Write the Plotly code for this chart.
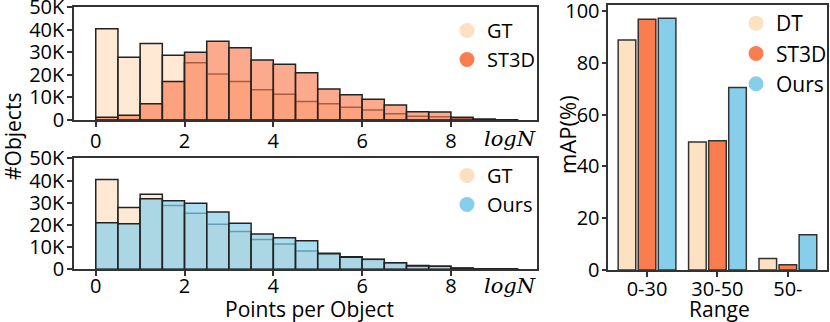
import plotly.graph_objects as go

W, H = 830, 322

# ---------------- data ----------------
bin_centers = [0.25, 0.75, 1.25, 1.75, 2.25, 2.75, 3.25, 3.75, 4.25, 4.75,
               5.25, 5.75, 6.25, 6.75, 7.25, 7.75, 8.25, 8.75, 9.25]
bin_width = 0.5
gt_counts = [40400, 27800, 33800, 28700, 25300, 20300, 17000, 13400, 11400, 8200,
             7200, 5600, 4400, 2800, 1700, 1400, 600, 250, 100]
st3d_counts = [1200, 2100, 7200, 17000, 30000, 34800, 32000, 26500, 24700, 20900,
               13700, 11200, 9200, 6600, 3700, 3500, 1200, 400, 100]
ours_counts = [21000, 20500, 31800, 30900, 29700, 25800, 20700, 15900, 14200, 12900,
               7000, 5400, 4500, 3000, 1500, 1400, 500, 300, 200]

hist_yticks = [0, 10000, 20000, 30000, 40000, 50000]
hist_yticklabels = ["0", "10K", "20K", "30K", "40K", "50K"]
hist_xticks = [0, 2, 4, 6, 8]

ranges = ["0-30", "30-50", "50-"]
map_dt = [88.8, 49.4, 4.4]
map_st3d = [96.8, 49.9, 2.0]
map_ours = [97.2, 70.5, 13.6]
map_yticks = [0, 20, 40, 60, 80, 100]

# ---------------- style ----------------
FONT = "Open Sans"
FS = 20
LINE = "#333333"
C_GT_FILL = "rgba(255,218,185,0.6)"
C_ST3D_FILL = "rgba(250,125,80,0.65)"
C_OURS_FILL = "rgba(135,206,235,0.7)"
C_GT = "#FDDFC2"
C_DT = "#FDE1C3"
C_ST3D = "#FA7D50"
C_OURS = "#87CEEB"


def px_x(a, b):
    return [a / W, b / W]


def px_y(top, bottom):
    return [1 - bottom / H, 1 - top / H]


fig = go.Figure()

bar_line = dict(color="#222222", width=1.5)

# top histogram: GT vs ST3D
fig.add_trace(go.Bar(x=bin_centers, y=gt_counts, width=bin_width, marker=dict(color=C_GT_FILL, line=bar_line),
                     xaxis="x", yaxis="y", showlegend=False))
fig.add_trace(go.Bar(x=bin_centers, y=st3d_counts, width=bin_width, marker=dict(color=C_ST3D_FILL, line=bar_line),
                     xaxis="x", yaxis="y", showlegend=False))
# bottom histogram: GT vs Ours
fig.add_trace(go.Bar(x=bin_centers, y=gt_counts, width=bin_width, marker=dict(color=C_GT_FILL, line=bar_line),
                     xaxis="x2", yaxis="y2", showlegend=False))
fig.add_trace(go.Bar(x=bin_centers, y=ours_counts, width=bin_width, marker=dict(color=C_OURS_FILL, line=bar_line),
                     xaxis="x2", yaxis="y2", showlegend=False))

# right grouped bars
bw = 0.25
for vals, col, off in [(map_dt, C_DT, -0.41), (map_st3d, C_ST3D, -0.125), (map_ours, C_OURS, 0.16)]:
    fig.add_trace(go.Bar(x=ranges, y=vals, width=bw, offset=off,
                         marker=dict(color=col, line=dict(color="#333333", width=1.5)),
                         xaxis="x3", yaxis="y3", showlegend=False))

# legend entries (circles)
def leg(name, color, legend, xa, ya):
    fig.add_trace(go.Scatter(x=[None], y=[None], mode="markers", name=name,
                             marker=dict(size=15, color=color), legend=legend,
                             xaxis=xa, yaxis=ya))

leg("GT", C_GT, "legend", "x", "y")
leg("ST3D", C_ST3D, "legend", "x", "y")
leg("GT", C_GT, "legend2", "x2", "y2")
leg("Ours", C_OURS, "legend2", "x2", "y2")
leg("DT", C_DT, "legend3", "x3", "y3")
leg("ST3D", C_ST3D, "legend3", "x3", "y3")
leg("Ours", C_OURS, "legend3", "x3", "y3")

axis_common = dict(showline=True, linecolor=LINE, linewidth=1.5, mirror=True,
                   ticks="outside", ticklen=5, tickwidth=1.5, tickcolor=LINE,
                   showgrid=False, zeroline=False, automargin=False,
                   ticklabeloverflow="allow",
                   tickfont=dict(family=FONT, size=FS, color="black"))


def leg_common(size):
    return dict(font=dict(family=FONT, size=size, color="black"), bgcolor="rgba(0,0,0,0)",
                borderwidth=0, xanchor="left", yanchor="top", itemsizing="trace",
                tracegroupgap=0)


def ann(text, x, y, size, angle=0, family=FONT):
    return dict(text=text, x=x / W, y=1 - y / H, xref="paper", yref="paper", textangle=angle,
                xanchor="center", yanchor="middle", showarrow=False,
                font=dict(family=family, size=size, color="black"))


fig.update_layout(
    width=W, height=H,
    margin=dict(l=0, r=0, t=0, b=0, autoexpand=False),
    paper_bgcolor="white", plot_bgcolor="white",
    barmode="overlay",
    xaxis=dict(domain=px_x(74, 537), range=[-0.49, 9.94], tickvals=hist_xticks, anchor="y",
               ticklabelstandoff=-3, **axis_common),
    yaxis=dict(domain=px_y(7, 120), range=[0, 50000], tickvals=hist_yticks, ticktext=hist_yticklabels,
               anchor="x", ticklabelstandoff=-1, **axis_common),
    xaxis2=dict(domain=px_x(74, 537), range=[-0.49, 9.94], tickvals=hist_xticks, anchor="y2",
                ticklabelstandoff=-7, **axis_common),
    yaxis2=dict(domain=px_y(158.3, 269.3), range=[0, 50000], tickvals=hist_yticks, ticktext=hist_yticklabels,
                anchor="x2", ticklabelstandoff=-1, **axis_common),
    xaxis3=dict(domain=px_x(608.3, 827.3), range=[-0.55, 2.56], type="category", anchor="y3",
                ticklabelstandoff=-5, **axis_common),
    yaxis3=dict(domain=px_y(5, 270), range=[0, 102.3], tickvals=map_yticks, anchor="x3",
                ticklabelstandoff=-2, **axis_common),
    legend=dict(x=447 / W, y=1 - 11 / H, **leg_common(20)),
    legend2=dict(x=447 / W, y=1 - 156 / H, **leg_common(20)),
    legend3=dict(x=736 / W, y=1 - 3 / H, **leg_common(21)),
    annotations=[
        ann("#Objects", 13, 137, 21, -90),
        ann("Points per Object", 309, 309, 21),
        ann("mAP(%)", 567, 135, 22, -90),
        ann("Range", 719, 309, 21),
        ann("<i>logN</i>", 510, 139, 21, family="DejaVu Serif"),
        ann("<i>logN</i>", 510, 286, 21, family="DejaVu Serif"),
    ],
)

fig.write_html("out.html", post_script="document.body.style.margin='0';",
               config={"displayModeBar": False})
